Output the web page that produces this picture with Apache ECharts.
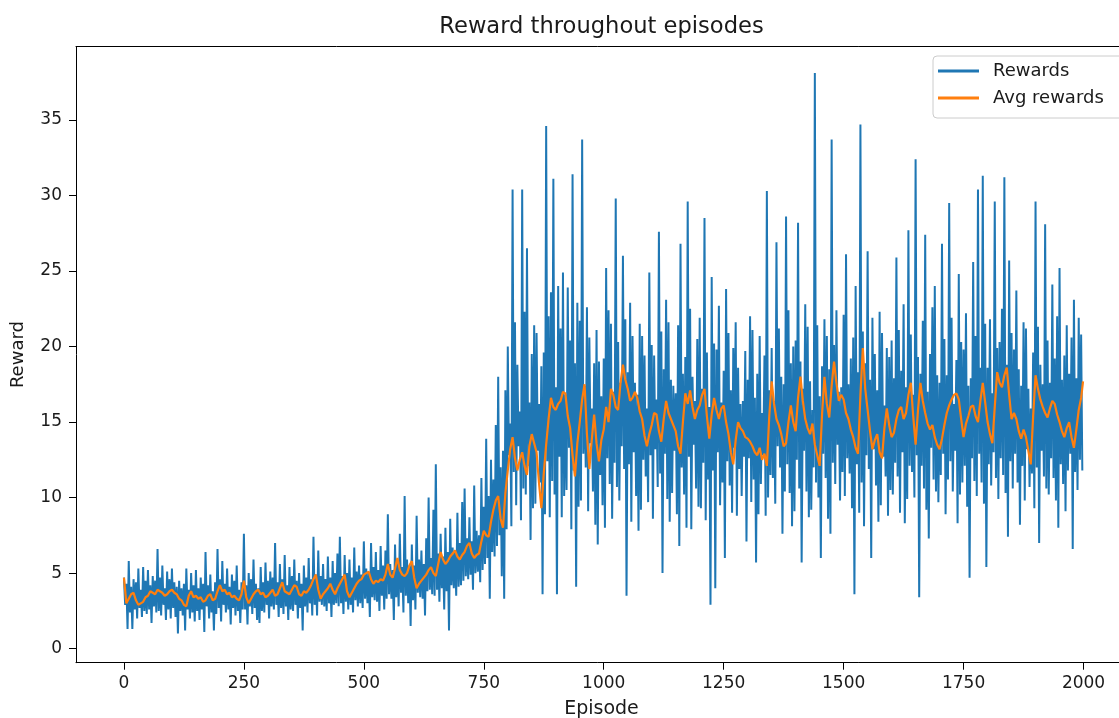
<!DOCTYPE html>
<html>
<head>
<meta charset="utf-8">
<script src="https://cdn.jsdelivr.net/npm/echarts@6/dist/echarts.min.js"></script>
<style>
html,body{margin:0;padding:0;background:#fff;}
#chart{width:1119px;height:718px;}
</style>
</head>
<body>
<div id="chart"></div>
<script>
// ---- data ----
const titleText = 'Reward throughout episodes';
const xName = 'Episode';
const yName = 'Reward';
const seriesNames = ['Rewards', 'Avg rewards'];
const xTicks = [0, 250, 500, 750, 1000, 1250, 1500, 1750, 2000];
const yTicks = [0, 5, 10, 15, 20, 25, 30, 35];

const rewardStep = 2.5; // one value every 2.5 episodes
const rewards = [
  4.7, 2.9, 4.3, 1.3, 5.8, 2.4, 4.1, 1.3, 4.6, 2.6, 4.4, 2.0, 5.3, 2.7, 3.9, 2.1, 5.4, 2.5, 4.5, 2.3,
  5.2, 2.6, 4.2, 1.7, 4.8, 2.8, 4.5, 2.4, 6.6, 2.5, 4.7, 2.2, 5.5, 2.9, 4.0, 1.9, 5.1, 2.6, 4.6, 2.0,
  5.3, 2.7, 4.4, 2.1, 4.1, 1.0, 4.5, 2.5, 4.0, 2.2, 4.3, 1.2, 5.3, 2.6, 3.9, 2.0, 5.0, 2.4, 4.2, 1.8,
  5.2, 2.5, 4.0, 1.9, 4.7, 2.6, 4.3, 1.1, 6.4, 2.8, 4.2, 2.0, 4.9, 2.4, 3.8, 1.2, 4.4, 2.3, 6.6, 2.7,
  4.6, 1.8, 5.8, 2.9, 4.3, 2.4, 5.3, 2.6, 4.1, 1.6, 4.9, 2.7, 4.5, 2.2, 5.5, 2.5, 3.9, 1.7, 4.4, 2.6,
  7.6, 2.6, 4.2, 1.6, 5.0, 2.8, 4.6, 2.3, 5.9, 2.7, 4.3, 1.9, 4.0, 1.7, 5.4, 2.5, 4.4, 2.4, 5.7, 2.9,
  4.5, 2.0, 5.1, 2.8, 4.7, 2.6, 7.0, 2.9, 4.4, 2.1, 5.6, 2.7, 4.6, 2.3, 6.2, 2.8, 4.2, 1.9, 5.4, 2.6,
  4.8, 2.5, 5.9, 2.9, 4.5, 2.0, 5.0, 2.7, 4.3, 1.2, 5.5, 2.8, 4.7, 2.4, 6.0, 3.0, 4.6, 2.2, 7.4, 2.9,
  4.9, 2.2, 6.5, 3.1, 4.8, 2.9, 5.6, 2.8, 4.6, 2.5, 6.1, 3.0, 4.7, 2.1, 5.8, 2.9, 5.0, 3.0, 6.3, 2.8,
  7.4, 3.0, 4.8, 2.3, 6.2, 3.1, 5.0, 2.6, 5.9, 2.9, 4.7, 2.4, 6.7, 3.2, 5.1, 2.8, 5.5, 3.0, 4.9, 2.7,
  7.1, 3.3, 5.3, 3.0, 5.0, 2.1, 7.0, 3.4, 5.4, 3.2, 6.4, 3.1, 5.2, 2.5, 6.8, 3.5, 5.5, 2.6, 6.5, 3.3,
  8.9, 3.6, 5.6, 3.3, 5.2, 1.9, 6.9, 3.4, 5.8, 2.8, 7.6, 3.7, 5.4, 2.4, 10.1, 3.5, 5.9, 3.0, 5.5, 1.5,
  6.9, 3.2, 5.5, 2.6, 8.8, 3.7, 5.9, 3.4, 6.5, 3.3, 5.6, 2.2, 7.3, 3.8, 10.0, 3.9, 6.0, 3.6, 9.2, 3.5,
  12.2, 3.9, 6.3, 3.1, 7.6, 4.0, 6.1, 2.6, 8.0, 3.8, 6.4, 1.2, 8.6, 4.2, 6.7, 4.0, 6.5, 3.5, 9.0, 4.1,
  7.0, 4.2, 9.7, 4.5, 10.6, 4.8, 7.3, 4.6, 8.7, 4.9, 7.1, 3.9, 10.8, 5.0, 7.8, 5.1, 7.5, 4.4, 11.3, 5.2,
  9.4, 5.6, 13.9, 6.0, 10.1, 3.3, 12.5, 6.4, 11.2, 6.1, 14.8, 6.8, 18.0, 7.5, 12.0, 4.8, 13.1, 3.3, 17.1, 7.9,
  20.0, 12.8, 14.9, 8.1, 30.4, 11.7, 21.6, 9.5, 18.8, 13.4, 15.7, 8.5, 30.4, 10.6, 22.3, 10.2, 26.5, 12.1, 16.3, 7.2,
  19.5, 9.3, 21.4, 9.6, 20.9, 13.1, 16.2, 11.0, 18.7, 3.6, 19.6, 8.9, 34.6, 12.4, 22.0, 8.7, 23.6, 11.1, 31.1, 10.2,
  17.3, 3.6, 24.0, 12.7, 21.2, 8.7, 24.9, 10.1, 16.8, 10.5, 23.9, 13.3, 20.4, 7.9, 31.4, 11.8, 18.9, 4.1, 22.9, 9.4,
  21.7, 9.8, 33.7, 12.9, 17.4, 12.0, 22.6, 9.1, 20.6, 13.6, 15.9, 10.4, 18.9, 8.2, 21.1, 6.9, 19.0, 11.5, 16.7, 9.5,
  19.2, 8.0, 25.2, 12.6, 22.4, 10.9, 21.5, 8.6, 17.0, 12.3, 29.8, 10.7, 20.3, 9.8, 17.6, 13.4, 26.0, 11.9, 21.8, 3.5,
  18.3, 12.2, 22.9, 8.4, 20.7, 13.0, 17.6, 10.1, 16.8, 7.8, 21.5, 9.2, 20.7, 12.5, 19.4, 11.4, 15.9, 9.7, 24.9, 12.8,
  20.1, 8.6, 19.4, 13.2, 16.5, 10.7, 27.6, 11.6, 21.0, 5.0, 18.5, 12.9, 23.1, 9.9, 21.6, 8.4, 17.8, 10.3, 17.4, 13.1,
  16.9, 8.9, 21.4, 6.8, 26.8, 12.0, 18.2, 10.2, 19.3, 8.0, 29.6, 12.7, 22.5, 7.9, 18.0, 13.5, 16.4, 10.6, 20.5, 9.4,
  21.9, 9.3, 17.2, 12.3, 28.5, 8.5, 19.6, 11.2, 16.0, 2.9, 24.6, 11.8, 20.2, 4.0, 19.8, 13.0, 22.7, 9.5, 16.3, 11.0,
  18.4, 6.0, 23.8, 12.4, 20.9, 10.8, 17.1, 9.0, 19.9, 13.3, 21.6, 8.8, 18.6, 11.9, 16.2, 10.1, 16.4, 12.7, 19.7, 7.1,
  17.8, 12.6, 22.0, 9.7, 21.1, 11.2, 16.6, 5.7, 18.2, 8.9, 20.7, 10.9, 15.6, 12.8, 19.4, 8.8, 30.3, 10.0, 17.1, 11.5,
  19.9, 11.3, 16.4, 9.6, 26.9, 13.4, 21.2, 12.0, 18.0, 7.6, 17.5, 10.4, 28.6, 12.2, 22.4, 10.3, 18.9, 8.1, 20.0, 9.1,
  20.4, 12.5, 28.2, 10.6, 19.0, 5.7, 17.2, 13.1, 22.8, 10.4, 21.3, 8.7, 17.7, 9.2, 15.8, 12.0, 38.1, 11.0, 21.4, 10.0,
  16.7, 6.0, 18.7, 12.9, 21.8, 11.3, 20.7, 8.6, 18.5, 7.6, 33.7, 12.3, 20.1, 10.9, 22.4, 13.5, 17.0, 9.8, 17.3, 11.7,
  22.1, 10.1, 26.1, 12.6, 17.5, 11.6, 19.2, 9.3, 20.6, 3.6, 24.0, 12.2, 18.3, 9.0, 34.7, 11.0, 21.0, 8.1, 18.9, 12.8,
  26.3, 11.9, 17.8, 6.0, 21.9, 13.2, 19.5, 10.8, 17.1, 8.4, 22.3, 9.5, 20.9, 12.7, 16.1, 11.4, 19.9, 8.8, 19.3, 10.5,
  20.4, 10.2, 17.9, 12.3, 25.9, 11.4, 21.1, 9.0, 18.4, 13.0, 22.8, 8.3, 17.3, 9.9, 27.7, 12.1, 20.8, 11.7, 16.8, 10.0,
  32.4, 12.8, 19.3, 3.4, 18.2, 12.1, 21.7, 10.6, 27.4, 9.2, 17.0, 7.3, 19.5, 13.3, 22.6, 11.2, 24.0, 10.4, 18.1, 9.7,
  17.6, 11.5, 26.8, 12.9, 20.5, 8.9, 18.1, 11.2, 29.5, 12.4, 21.9, 10.4, 16.2, 13.1, 19.1, 8.3, 24.8, 10.2, 20.3, 11.0,
  19.8, 12.1, 22.2, 9.4, 17.4, 4.7, 17.9, 12.6, 25.6, 11.1, 20.7, 10.1, 30.4, 12.9, 18.6, 11.0, 31.3, 9.6, 21.5, 5.4,
  18.6, 12.2, 21.8, 10.8, 16.9, 13.0, 29.6, 11.3, 19.9, 9.9, 20.3, 12.6, 22.5, 11.5, 31.2, 10.3, 18.8, 7.4, 25.7, 12.4,
  20.9, 10.6, 19.8, 12.9, 23.7, 11.0, 18.5, 8.2, 17.4, 12.1, 21.6, 9.8, 21.2, 13.2, 17.2, 10.7, 15.9, 11.6, 19.6, 9.3,
  29.6, 12.0, 21.3, 7.0, 18.8, 13.1, 17.5, 11.4, 28.1, 10.6, 20.4, 10.2, 17.6, 12.6, 24.1, 11.3, 19.2, 9.8, 22.0, 8.0,
  25.2, 12.2, 17.8, 10.9, 19.4, 9.1, 21.4, 11.8, 18.2, 12.9, 20.6, 6.6, 23.1, 11.7, 17.9, 10.5, 21.9, 12.5, 20.8, 11.8
];

const avgStep = 5; // one value every 5 episodes
const avgRewards = [
  4.7, 3.0, 3.3, 3.6, 3.7, 3.2, 2.9, 3.0, 3.1, 3.4, 3.5, 3.8, 3.7, 3.6, 3.9, 3.8, 3.7, 3.5, 3.6, 3.8,
  3.9, 3.7, 3.6, 3.3, 3.2, 2.9, 2.8, 3.5, 3.8, 3.4, 3.5, 3.3, 3.4, 3.1, 3.2, 3.5, 3.6, 3.2, 3.3, 3.8,
  4.2, 3.8, 3.9, 3.6, 3.7, 3.4, 3.5, 3.3, 3.2, 3.6, 4.5, 3.4, 3.0, 3.3, 3.6, 3.8, 3.9, 3.6, 3.7, 3.4,
  3.5, 3.7, 3.9, 3.5, 3.6, 4.0, 4.4, 3.8, 3.7, 3.6, 3.9, 4.2, 4.1, 3.6, 3.5, 3.8, 3.7, 3.9, 4.2, 4.6,
  4.9, 3.9, 3.3, 3.6, 3.8, 4.0, 4.3, 3.9, 3.6, 4.0, 4.3, 4.6, 4.9, 3.8, 3.4, 3.7, 4.0, 4.3, 4.5, 4.6,
  4.9, 5.0, 5.1, 4.6, 4.3, 4.5, 4.4, 4.6, 4.5, 4.9, 5.6, 4.9, 4.7, 5.3, 6.0, 5.2, 4.9, 4.8, 5.0, 5.5,
  5.8, 4.7, 4.0, 4.3, 4.5, 4.7, 4.9, 5.2, 5.4, 5.0, 4.8, 5.6, 6.4, 5.9, 5.6, 5.8, 6.1, 6.3, 6.5, 6.1,
  5.9, 6.2, 6.4, 6.8, 7.0, 6.3, 6.0, 6.2, 6.3, 7.1, 7.8, 7.5, 7.4, 8.4, 9.2, 9.8, 10.1, 8.6, 8.0, 10.3,
  11.8, 13.2, 14.0, 12.6, 11.8, 12.5, 13.0, 12.1, 11.5, 13.4, 14.2, 13.6, 13.0, 11.0, 9.3, 11.6, 13.5, 15.2, 16.6, 16.0,
  15.8, 16.2, 16.4, 17.0, 16.9, 15.4, 14.6, 12.8, 11.4, 13.6, 15.0, 16.5, 17.5, 14.2, 11.9, 13.8, 15.5, 13.6, 12.4, 13.8,
  14.5, 16.0, 15.0, 17.2, 16.8, 16.0, 15.8, 17.6, 18.8, 17.8, 17.2, 16.4, 16.6, 17.0, 16.6, 15.7, 15.2, 14.1, 13.4, 14.2,
  14.8, 15.6, 15.5, 14.4, 13.7, 15.2, 16.4, 15.6, 15.2, 14.8, 14.4, 13.4, 12.9, 15.0, 16.9, 16.2, 17.1, 16.0, 15.2, 15.8,
  16.1, 16.8, 17.2, 15.4, 13.9, 15.5, 16.6, 15.8, 15.2, 15.9, 16.1, 15.0, 14.2, 13.0, 12.2, 13.8, 15.0, 14.6, 14.4, 14.0,
  13.9, 13.7, 13.4, 13.0, 12.8, 13.3, 12.5, 12.9, 12.1, 15.4, 17.7, 16.2, 15.2, 14.8, 14.2, 13.4, 13.6, 15.0, 16.1, 15.0,
  14.4, 16.6, 18.0, 16.4, 15.2, 14.6, 14.2, 14.9, 13.5, 12.8, 12.1, 15.5, 18.0, 16.2, 15.3, 17.4, 19.0, 17.6, 16.4, 16.8,
  16.5, 15.6, 15.2, 14.5, 14.0, 13.3, 12.9, 16.8, 19.9, 17.2, 15.8, 14.4, 13.2, 13.8, 14.2, 13.0, 12.6, 14.6, 15.9, 14.8,
  14.0, 14.3, 15.2, 15.8, 16.0, 15.2, 15.6, 16.8, 17.6, 15.4, 13.5, 15.8, 17.6, 16.4, 15.6, 14.9, 14.5, 14.8, 14.0, 13.5,
  13.2, 13.9, 14.8, 15.6, 16.1, 16.5, 16.8, 16.9, 16.5, 15.2, 14.0, 14.9, 15.4, 16.0, 16.1, 15.4, 15.0, 16.4, 17.6, 16.3,
  15.0, 14.2, 13.6, 16.0, 18.3, 17.6, 17.3, 18.1, 18.6, 16.8, 15.2, 15.6, 15.2, 14.4, 13.9, 14.5, 14.0, 13.1, 12.2, 15.4,
  18.1, 17.2, 16.5, 16.0, 15.6, 15.3, 15.9, 16.4, 16.2, 15.5, 15.0, 14.4, 14.0, 14.6, 15.0, 14.0, 13.3, 14.5, 15.8, 16.6
];
const avgLastEpisode = 1999;
const avgLastValue = 17.7;

// ---- build chart ----
const rewardData = rewards.map((v, i) => [i * rewardStep, v]);
const avgData = avgRewards.map((v, i) => [i * avgStep, v]);
avgData.push([avgLastEpisode, avgLastValue]);

const chart = echarts.init(document.getElementById('chart'), null, {renderer: 'canvas'});
const font = 'DejaVu Sans';
const txt = '#1a1a1a';
const plain = v => String(v);

chart.setOption({
  animation: false,
  backgroundColor: '#ffffff',
  title: {
    text: titleText,
    left: 596.5,
    textAlign: 'center',
    top: 11,
    textStyle: {fontFamily: font, fontSize: 22.6, fontWeight: 'normal', color: txt}
  },
  legend: {
    orient: 'vertical',
    left: 933,
    top: 56,
    padding: [5, 30, 10, 5],
    itemWidth: 41,
    itemHeight: 3,
    itemGap: 7,
    icon: 'rect',
    backgroundColor: 'rgba(255,255,255,0.8)',
    borderColor: '#cccccc',
    borderWidth: 1,
    borderRadius: 4,
    textStyle: {fontFamily: font, fontSize: 18, color: txt, lineHeight: 20, padding: [0, 0, 0, 9]},
    data: seriesNames
  },
  grid: {
    left: 76,
    top: 46.5,
    width: 1055,
    height: 616.2,
    show: false,
    containLabel: false,
    outerBoundsMode: 'none'
  },
  xAxis: [{
    type: 'value',
    min: -99.95,
    max: 2098.95,
    name: xName,
    nameLocation: 'middle',
    nameGap: 37,
    nameTextStyle: {fontFamily: font, fontSize: 19, color: txt, padding: [0, 4, 0, 0]},
    axisLine: {show: true, onZero: false, lineStyle: {color: '#000', width: 1}},
    axisTick: {show: true, inside: false, length: 7, customValues: xTicks, lineStyle: {color: '#000'}},
    axisLabel: {show: true, margin: 12, customValues: xTicks, formatter: plain, fontFamily: font, fontSize: 17, color: txt},
    splitLine: {show: false}
  }, {
    type: 'value',
    position: 'top',
    min: -99.95,
    max: 2098.95,
    axisLine: {show: true, onZero: false, lineStyle: {color: '#000', width: 1}},
    axisTick: {show: false},
    axisLabel: {show: false},
    splitLine: {show: false}
  }],
  yAxis: {
    type: 'value',
    min: -0.93,
    max: 39.86,
    name: yName,
    nameLocation: 'middle',
    nameGap: 49,
    nameRotate: 90,
    nameTextStyle: {fontFamily: font, fontSize: 18, color: txt},
    axisLine: {show: true, onZero: false, lineStyle: {color: '#000', width: 1}},
    axisTick: {show: true, inside: false, length: 7, customValues: yTicks, lineStyle: {color: '#000'}},
    axisLabel: {show: true, margin: 14, customValues: yTicks, formatter: plain, fontFamily: font, fontSize: 17, color: txt},
    splitLine: {show: false}
  },
  series: [
    {
      name: seriesNames[0],
      type: 'line',
      xAxisIndex: 0,
      data: rewardData,
      showSymbol: false,
      symbol: 'none',
      color: '#1f77b4',
      lineStyle: {color: '#1f77b4', width: 2},
      z: 2
    },
    {
      name: seriesNames[1],
      type: 'line',
      xAxisIndex: 0,
      data: avgData,
      showSymbol: false,
      symbol: 'none',
      color: '#ff7f0e',
      lineStyle: {color: '#ff7f0e', width: 2.2},
      z: 3
    }
  ]
});
</script>
</body>
</html>
